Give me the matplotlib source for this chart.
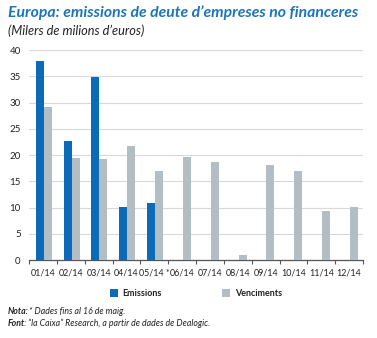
import matplotlib
matplotlib.use("Agg")
import matplotlib.pyplot as plt
import numpy as np
from matplotlib.patches import Rectangle

plt.rcParams['font.family'] = ['Lato', 'DejaVu Sans']

categories = ["01/14", "02/14", "03/14", "04/14", "05/14 *", "06/14", "07/14", "08/14",
              "09/14", "10/14", "11/14", "12/14"]
emissions = [38.0, 22.6, 34.9, 10.1, 10.9, np.nan, np.nan, np.nan, np.nan, np.nan, np.nan, np.nan]
venciments = [29.2, 19.5, 19.2, 21.7, 17.0, 19.6, 18.6, 0.9, 18.1, 17.0, 9.4, 10.1]
yticks = [0, 5, 10, 15, 20, 25, 30, 35, 40]

BLUE = "#0a6bb8"
GRAY = "#b3bec4"
TITLE = "#1a75bc"

fig = plt.figure(figsize=(3.77, 3.38), dpi=100)
ax = fig.add_axes([29/377, 1-260/338, 334/377, 210/338])

x = np.arange(len(categories))
w = 0.29
ax.bar(x - w/2 + 0.03, emissions, w, color=BLUE, zorder=3)
ax.bar(x + w/2 + 0.03, venciments, w, color=GRAY, zorder=3)

ax.set_xlim(-0.5, len(categories) - 0.5)
ax.set_ylim(0, 40)
ax.set_yticks(yticks)
ax.set_yticklabels([str(t) for t in yticks], fontsize=7, color="#222222")
ax.tick_params(axis='y', length=0, pad=6)
ax.yaxis.grid(True, color="#d9d9d9", linewidth=0.8, zorder=0)
ax.set_xticks(x)
ax.set_xticklabels(categories, fontsize=6.4, color="#222222")
ax.tick_params(axis='x', length=0, pad=6)
ax.set_xticks(np.arange(-0.5, len(categories)), minor=True)
ax.tick_params(axis='x', which='minor', length=3, direction='out', color="#555555", width=0.8)
for s in ['top', 'right', 'left']:
    ax.spines[s].set_visible(False)
ax.spines['bottom'].set_color("#555555")
ax.spines['bottom'].set_linewidth(0.9)

fig.text(8/377, 1-13/338, "Europa: emissions de deute d\u2019empreses no financeres",
         fontsize=11.3, fontweight='bold', fontstyle='italic', color=TITLE, va='center')
fig.text(8/377, 1-31/338, "(Milers de milions d\u2019euros)", fontsize=9.2,
         fontstyle='italic', color="#222222", va='center')

# legend
fig.patches.append(Rectangle((110/377, 1-297/338), 8/377, 8/338, transform=fig.transFigure,
                             facecolor=BLUE, edgecolor='none'))
fig.text(122/377, 1-293/338, "Emissions", fontsize=6.5, fontweight='bold', color="#222222", va='center')
fig.patches.append(Rectangle((222/377, 1-297/338), 8/377, 8/338, transform=fig.transFigure,
                             facecolor=GRAY, edgecolor='none'))
fig.text(235/377, 1-293/338, "Venciments", fontsize=6.5, fontweight='bold', color="#222222", va='center')

fig.text(8/377, 1-311/338, "Nota:", fontsize=6.3, fontweight='bold', fontstyle='italic',
         va='center', color="#222222")
fig.text(29/377, 1-311/338, "* Dades fins al 16 de maig.", fontsize=6.3, fontstyle='italic',
         va='center', color="#222222")
fig.text(8/377, 1-323/338, "Font", fontsize=6.3, fontweight='bold', fontstyle='italic',
         va='center', color="#222222")
fig.text(24/377, 1-323/338, ": \u201cla Caixa\u201d Research, a partir de dades de Dealogic.",
         fontsize=6.3, fontstyle='italic', va='center', color="#222222")

fig.savefig("out.png", dpi=100, facecolor="white")
